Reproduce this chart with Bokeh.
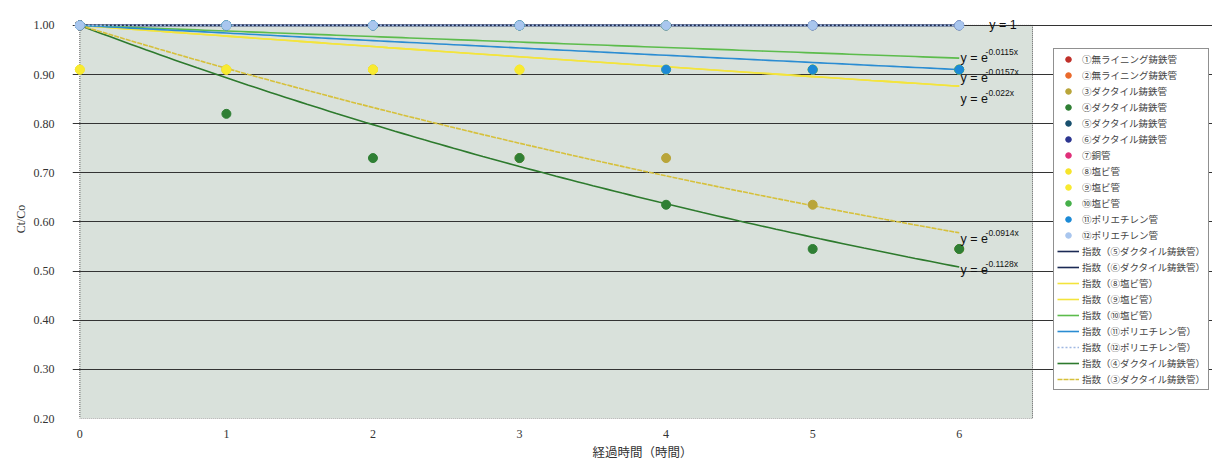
import numpy as np
from bokeh.plotting import figure
from bokeh.models import Range1d, Legend, LegendItem, Label
from bokeh.embed import file_html
from bokeh.resources import INLINE

nan = float("nan")

# elapsed time (hours)
hours = [0, 1, 2, 3, 4, 5, 6]

# residual chlorine ratio Ct/Co for each pipe sample
ct_01 = [1.00, nan, nan, nan, nan, nan, nan]
ct_02 = [1.00, nan, nan, nan, nan, nan, nan]
ct_03 = [1.00, 0.91, 0.91, 0.73, 0.73, 0.635, 0.545]
ct_04 = [1.00, 0.82, 0.73, 0.73, 0.635, 0.545, 0.545]
ct_05 = [1.00, 1.00, 1.00, 1.00, 1.00, 1.00, 1.00]
ct_06 = [1.00, 1.00, 1.00, 1.00, 1.00, 1.00, 1.00]
ct_07 = [1.00, nan, nan, nan, nan, nan, nan]
ct_08 = [0.91, 0.91, 0.91, 0.91, 0.91, 0.91, 0.91]
ct_09 = [0.91, 0.91, 0.91, 0.91, 0.91, 0.91, 0.91]
ct_10 = [1.00, 1.00, 1.00, 1.00, 1.00, 0.91, 0.91]
ct_11 = [1.00, 1.00, 1.00, 1.00, 0.91, 0.91, 0.91]
ct_12 = [1.00, 1.00, 1.00, 1.00, 1.00, 1.00, 1.00]

sample_names = [
    "①無ライニング鋳鉄管", "②無ライニング鋳鉄管", "③ダクタイル鋳鉄管",
    "④ダクタイル鋳鉄管", "⑤ダクタイル鋳鉄管", "⑥ダクタイル鋳鉄管",
    "⑦銅管", "⑧塩ビ管", "⑨塩ビ管", "⑩塩ビ管",
    "⑪ポリエチレン管", "⑫ポリエチレン管",
]
sample_values = [ct_01, ct_02, ct_03, ct_04, ct_05, ct_06,
                 ct_07, ct_08, ct_09, ct_10, ct_11, ct_12]
sample_colors = ["#c0302a", "#ea6a2c", "#b9a53a", "#2f7f34", "#18506e", "#2c3590",
                 "#e0307a", "#f6e42a", "#f8ea30", "#46b04a", "#1c8ad6", "#a9c6ee"]

# exponential trend lines y = exp(-k x), in legend order
trend_index = [4, 5, 7, 8, 9, 10, 11, 3, 2]       # which sample each fit belongs to
trend_k = [0.0, 0.0, 0.022, 0.022, 0.0115, 0.0157, 0.0, 0.1128, 0.0914]
trend_colors = ["#1b2a55", "#1b2a55", "#f3e43c", "#f3e43c", "#5cbc4c",
                "#2a8cd2", "#9fb8e2", "#2d7a2d", "#d6c03a"]
trend_dash = ["solid", "solid", "solid", "solid", "solid", "solid", "2 2", "solid", "5 1"]

y_ticks = [0.2, 0.3, 0.4, 0.5, 0.6, 0.7, 0.8, 0.9, 1.0]

JP = "Noto Sans CJK JP"
X_END = 6.5   # right edge of the shaded plot panel

# the frame runs to the right edge so the legend can sit beside the panel
p = figure(width=1212, height=468,
           x_range=Range1d(-0.05, 7.728), y_range=Range1d(0.2, 1.012),
           output_backend="svg", toolbar_location=None,
           min_border_left=72, min_border_right=0,
           min_border_top=19, min_border_bottom=50,
           background_fill_color="white", border_fill_color="white",
           outline_line_color=None)

# plot-area panel
p.quad(left=0, right=X_END, bottom=0.2, top=1.0, fill_color="#d9e1db",
       line_color="#555555", line_dash="1 1", line_width=1, level="image")

p.xgrid.visible = False
p.ygrid.ticker = y_ticks
p.ygrid.bounds = (0, X_END)
p.ygrid.grid_line_color = "#333333"
p.ygrid.grid_line_width = 1

p.xaxis.ticker = hours
p.yaxis.ticker = y_ticks
p.yaxis.major_label_overrides = {t: f"{t:.2f}" for t in y_ticks}
for ax in (p.xaxis[0], p.yaxis[0]):
    ax.axis_line_color = None
    ax.major_tick_line_color = None
    ax.minor_tick_line_color = None
    ax.major_label_text_font = "Liberation Serif"
    ax.major_label_text_font_size = "12px"
    ax.major_label_text_color = "#333333"
    ax.axis_label_text_font_style = "normal"
    ax.axis_label_text_color = "#333333"
p.yaxis.major_label_standoff = 12
p.xaxis.major_label_standoff = 5
p.xaxis.axis_label = "経過時間（時間）"
p.xaxis.axis_label_text_font = JP
p.xaxis.axis_label_text_font_size = "12.5px"
p.xaxis.axis_label_standoff = 1
p.yaxis.axis_label = "Ct/Co"
p.yaxis.axis_label_text_font = "Liberation Serif"
p.yaxis.axis_label_text_font_size = "12px"
p.yaxis.axis_label_standoff = 3

xs = np.linspace(0, 6, 121)
line_items = []
for idx, k, col, dash in zip(trend_index, trend_k, trend_colors, trend_dash):
    r = p.line(xs, np.exp(-k * xs), line_color=col, line_width=1.6, line_dash=dash)
    line_items.append(LegendItem(label=f"指数（{sample_names[idx]}）", renderers=[r]))

point_items = []
for name, vals, col in zip(sample_names, sample_values, sample_colors):
    r = p.scatter(hours, vals, size=9, fill_color=col, line_color=col)
    point_items.append(LegendItem(label=name, renderers=[r]))

legend = Legend(items=point_items + line_items, location=(981, 28),
                label_text_font=JP, label_text_font_size="9.5px",
                label_height=14, glyph_height=14, glyph_width=22,
                spacing=2, padding=3, margin=0, label_standoff=3,
                border_line_color="#222222", border_line_width=1,
                background_fill_color="white", background_fill_alpha=1)
p.add_layout(legend, "center")

# fitted equation labels
eq_labels = [("y = 1", None, 6.205, 1.0),
             ("y = e", "-0.0115x", 6.009, 0.9328),
             ("y = e", "-0.0157x", 6.009, 0.8921),
             ("y = e", "-0.022x", 6.009, 0.8494),
             ("y = e", "-0.0914x", 6.009, 0.5644),
             ("y = e", "-0.1128x", 6.009, 0.5013)]
for base, sup, lx, ly in eq_labels:
    p.add_layout(Label(x=lx, y=ly, text=base, text_font="Liberation Sans",
                       text_font_size="12.5px", text_baseline="middle",
                       text_color="#111111"))
    if sup:
        p.add_layout(Label(x=lx, y=ly, x_offset=25, y_offset=6, text=sup,
                           text_font="Liberation Sans", text_font_size="8.5px",
                           text_baseline="middle", text_color="#111111"))

open("out.html", "w").write(file_html(p, INLINE))
